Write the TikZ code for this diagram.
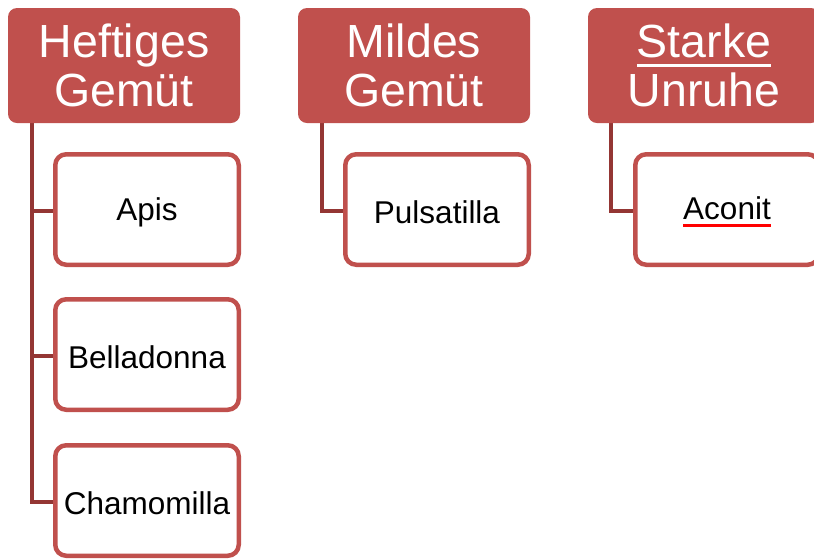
\documentclass[tikz,border=0pt]{standalone}
\usepackage{fontspec}
\setmainfont{Liberation Sans}
\usetikzlibrary{backgrounds}
\definecolor{hdr}{HTML}{C0504D}
\definecolor{conn}{HTML}{943634}
\newlength\ulw
\newcommand\myul[4]{\settowidth\ulw{#4}\rlap{\textcolor{#1}{\rule[-#2]{\ulw}{#3}}}#4}
\newcommand\ctxt[1]{\raisebox{-2.5pt}[\height][\depth]{#1}}
\tikzset{
  header/.style={fill=hdr, draw=none, rounded corners=9pt, minimum width=232pt, minimum height=115pt,
    inner sep=0pt, text=white, align=center, font=\fontsize{46.5}{49}\selectfont},
  child/.style={fill=white, draw=hdr, line width=4.5pt, rounded corners=11pt, minimum width=183.5pt,
    minimum height=110.5pt, inner sep=0pt, text=black, font=\fontsize{31.5}{34}\selectfont},
  link/.style={draw=conn, line width=4.5pt}
}
\begin{document}
\begin{tikzpicture}[x=1pt,y=-1pt]
\useasboundingbox (0,0) rectangle (814,558);
\clip (0,0) rectangle (814,558);
\node[header] (h1) at (124,65.5) {Heftiges\\Gemüt};
\node[header] (h2) at (414,65.5) {Mildes\\Gemüt};
\node[header] (h3) at (704,65.5) {\myul{white}{9pt}{3pt}{Starke}\\Unruhe};
\node[child] (apis) at (147,209.5) {\ctxt{Apis}};
\node[child] (bella) at (147,354.5) {\ctxt{Belladonna}};
\node[child] (chamo) at (147,500.5) {\ctxt{Chamomilla}};
\node[child] (puls) at (437,209.5) {\ctxt{Pulsatilla}};
\node[child] (acon) at (727,209.5) {\ctxt{\myul{red}{7pt}{2.5pt}{Aconit}}};
\begin{scope}[on background layer]
\draw[link] ([xshift=24pt]h1.south west) |- ([yshift=-1.5pt]apis.west);
\draw[link] ([xshift=24pt]h1.south west) |- ([yshift=-1.5pt]bella.west);
\draw[link] ([xshift=24pt]h1.south west) |- ([yshift=-1.5pt]chamo.west);
\draw[link] ([xshift=24pt]h2.south west) |- ([yshift=-1.5pt]puls.west);
\draw[link] ([xshift=23pt]h3.south west) |- ([yshift=-1.5pt]acon.west);
\end{scope}
\end{tikzpicture}
\end{document}
